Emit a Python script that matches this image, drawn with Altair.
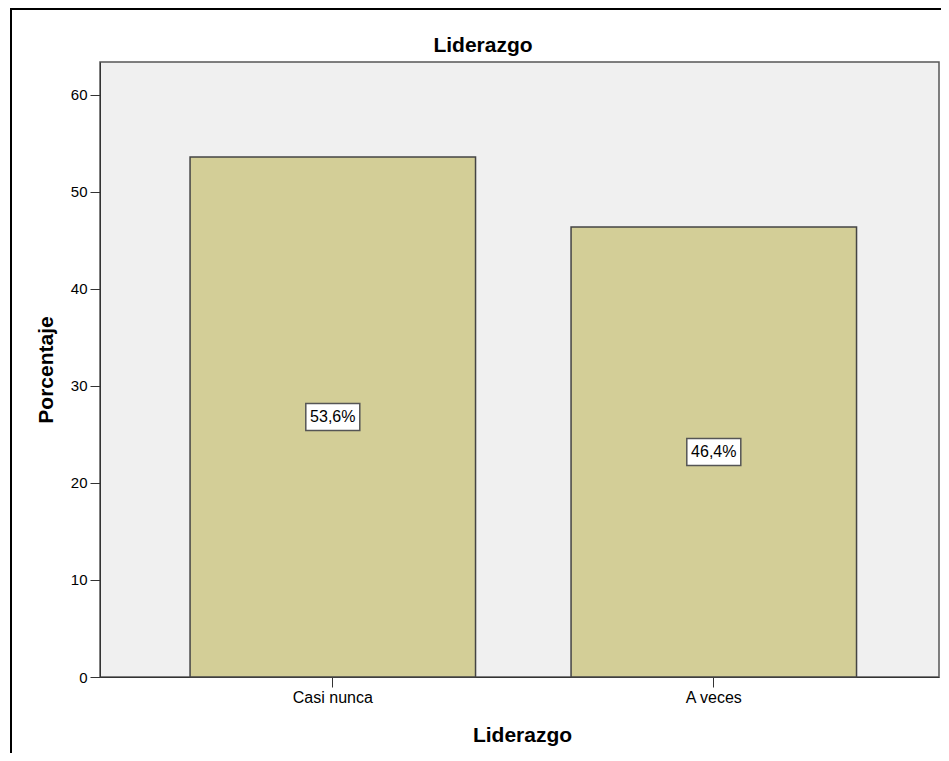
import altair as alt
import pandas as pd

title_text = "Liderazgo"
x_title = "Liderazgo"
y_title = "Porcentaje"
categories = ["Casi nunca", "A veces"]
percentages = [53.6, 46.4]
labels = ["53,6%", "46,4%"]
y_ticks = [0, 10, 20, 30, 40, 50, 60]

df = pd.DataFrame({
    "cat": categories,
    "pct": percentages,
    "label": labels,
    "mid": [p / 2 for p in percentages],
})

FONT = "Liberation Sans"

xscale = alt.Scale(paddingInner=0.2507, paddingOuter=0.2264, align=0.522)

xenc = alt.X(
    "cat:N",
    sort=categories,
    scale=xscale,
    axis=alt.Axis(
        title=x_title, labelAngle=0, tickSize=10, labelPadding=2,
        labelFontSize=16, labelColor="black", tickColor="#333333",
        domainColor="#333333", titleFontSize=21, titleFontWeight="bold",
        titleColor="black", titleBaseline="alphabetic", titleY=64, titleX=422,
        labelFont=FONT, titleFont=FONT,
    ),
)
yscale = alt.Scale(domain=[0, 63.4], nice=False, zero=True)

bars = alt.Chart(df).mark_bar(
    color="#D3CE97", stroke="#444444", strokeWidth=1.5
).encode(
    x=xenc,
    y=alt.Y(
        "pct:Q", scale=yscale,
        axis=alt.Axis(
            title=y_title, values=y_ticks,
            tickSize=10, labelPadding=3, labelFontSize=15, labelColor="black",
            tickColor="#333333", domainColor="#333333", grid=False,
            titleFontSize=21, titleFontWeight="bold", titleColor="black",
            titleBaseline="alphabetic", titleAngle=270, titleX=-48,
            labelFont=FONT, titleFont=FONT,
        ),
    ),
)

boxes = alt.Chart(df).mark_point(
    shape="M-1,-0.5L1,-0.5L1,0.5L-1,0.5Z", size=2916, filled=True,
    fill="white", stroke="#555555", strokeWidth=1.5, opacity=1,
).encode(
    x=alt.X("cat:N", sort=categories, scale=xscale),
    y=alt.Y("mid:Q", scale=yscale),
)

texts = alt.Chart(df).mark_text(
    fontSize=16, font=FONT, color="black", baseline="middle", align="center"
).encode(
    x=alt.X("cat:N", sort=categories, scale=xscale),
    y=alt.Y("mid:Q", scale=yscale),
    text="label:N",
)

frame = alt.Chart(df).mark_rect(
    fill=None, stroke="black", strokeWidth=2, clip=False
).encode(
    x=alt.value(-89), x2=alt.value(900), y=alt.value(-53), y2=alt.value(800)
)

title_mark = alt.Chart(pd.DataFrame({"t": [title_text]})).mark_text(
    fontSize=21, fontWeight="bold", font=FONT, color="black",
    align="center", baseline="alphabetic", clip=False,
).encode(
    text="t:N", x=alt.value(383), y=alt.value(-10)
)

chart = alt.layer(frame, bars, boxes, texts, title_mark).properties(
    width=839, height=615,
    padding={"left": 92, "top": 54, "right": 2, "bottom": 76},
    autosize=alt.AutoSizeParams(type="none"),
    background="white",
).configure_view(
    fill="#F0F0F0", stroke="#555555", strokeWidth=1.5
)

chart.save("out.html", embed_options={"renderer": "svg", "actions": False})
